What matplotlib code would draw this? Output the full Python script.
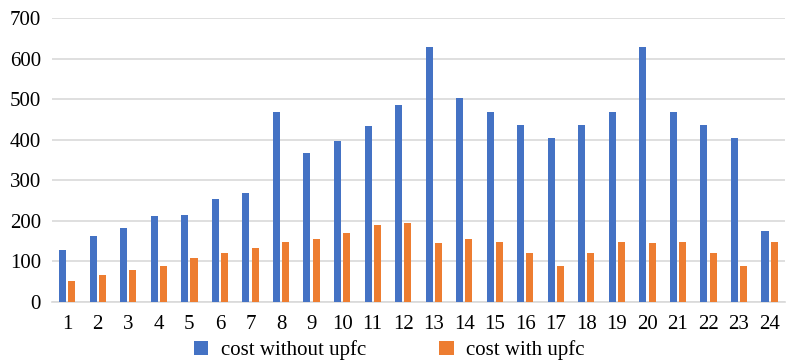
import numpy as np
import matplotlib.pyplot as plt

hours = list(range(1, 25))
cost_without = [129, 164, 183, 213, 215, 254, 268, 468, 368, 397, 434, 486,
                628, 504, 468, 437, 404, 437, 468, 628, 468, 437, 404, 176]
cost_with = [51, 66, 79, 90, 109, 121, 134, 148, 155, 171, 190, 195,
             146, 155, 148, 121, 90, 121, 148, 146, 148, 121, 90, 148]

plt.rcParams['font.family'] = ['Liberation Serif', 'DejaVu Serif']

fig = plt.figure(figsize=(7.88, 3.63), dpi=100)
ax = fig.add_axes([0.066, 0.168, 0.930, 0.782])

x = np.arange(len(hours))
w = 0.23
ax.bar(x - 0.15, cost_without, w, color='#4472C4', label='cost without upfc', zorder=3)
ax.bar(x + 0.15, cost_with, w, color='#ED7D31', label='cost with upfc', zorder=3)

ax.set_xlim(-0.5, len(hours) - 0.5)
ax.set_ylim(0, 700)
ax.set_yticks(np.arange(0, 701, 100))
ax.set_xticks(x)
ax.set_xticklabels([str(h) for h in hours])
ax.yaxis.grid(True, color='#d9d9d9', linewidth=1.2, zorder=0)
ax.tick_params(axis='both', length=0, labelsize=15, colors='black')
ax.tick_params(axis='x', pad=9)
ax.tick_params(axis='y', pad=8)
for s in ['top', 'right', 'left']:
    ax.spines[s].set_visible(False)
ax.spines['bottom'].set_color('#d9d9d9')
ax.spines['bottom'].set_linewidth(1.2)

ax.legend(loc='center', bbox_to_anchor=(0.46, -0.17), ncol=2, frameon=False,
          fontsize=15, handlelength=0.7, handleheight=0.7, columnspacing=3.5,
          handletextpad=0.6, borderpad=0)

plt.savefig('out.png', dpi=100)
